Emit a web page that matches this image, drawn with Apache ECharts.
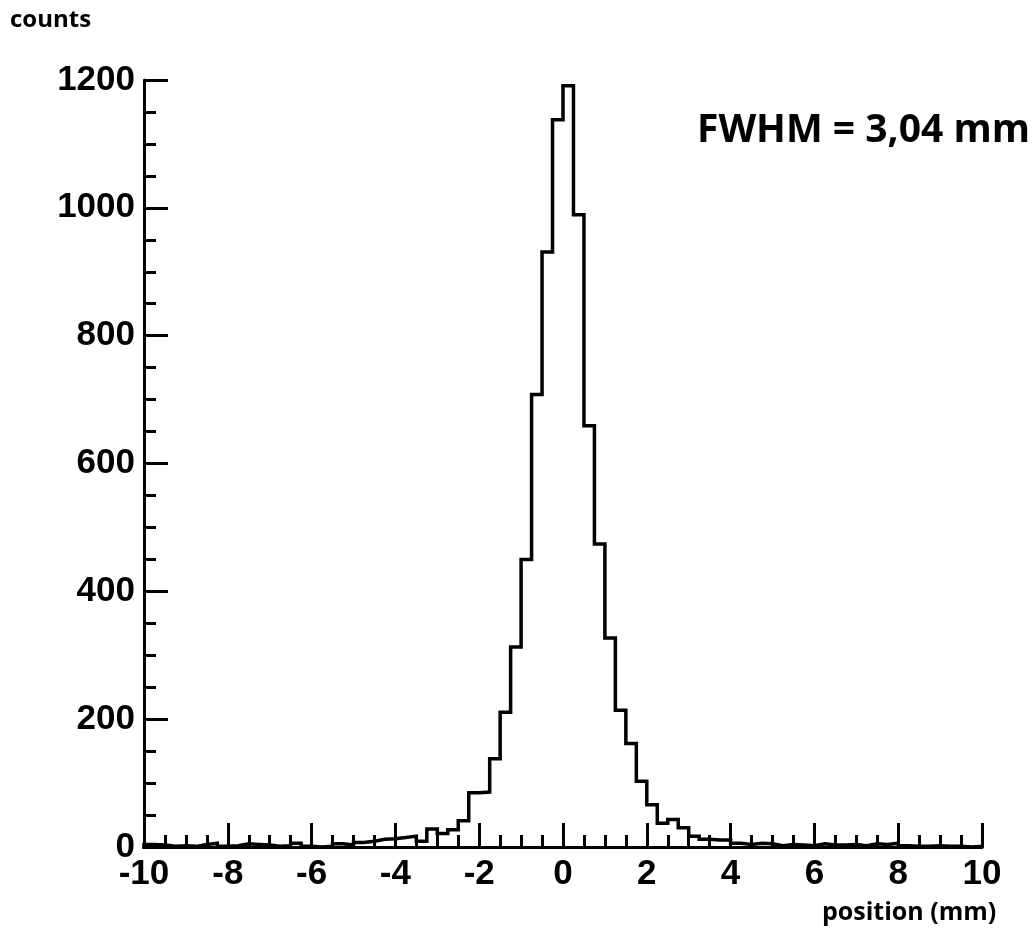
<!DOCTYPE html>
<html>
<head>
<meta charset="utf-8">
<title>Position histogram</title>
<script src="https://cdn.jsdelivr.net/npm/echarts@6/dist/echarts.min.js"></script>
<style>
  html, body { margin: 0; padding: 0; background: #ffffff; }
  #chart { width: 1036px; height: 932px; }
</style>
</head>
<body>
<div id="chart"></div>
<script>
// Histogram range and bin width (mm)
const xMin = -10;
const xMax = 10;
const binWidth = 0.25;

// Counts per bin, left edge from -10 mm up to 9.75 mm
const counts = [
  4, 3, 1, 2, 1, 4, 6, 1, 2, 5,
  4, 3, 1, 2, 6, 1, 0, 1, 5, 3,
  7, 9, 12, 13, 15, 17, 9, 28, 21, 27,
  41, 85, 86, 138, 211, 313, 450, 708, 931, 1138,
  1191, 989, 659, 474, 327, 214, 162, 103, 66, 37,
  43, 30, 17, 12, 11, 11, 6, 4, 6, 5,
  2, 4, 3, 2, 5, 3, 3, 4, 2, 5,
  4, 6, 2, 1, 1, 2, 1, 1, 0, 1
];

// Axis ticks
const xTicks = [-10, -8, -6, -4, -2, 0, 2, 4, 6, 8, 10];
const yTicks = [0, 200, 400, 600, 800, 1000, 1200];

const fwhmText = 'FWHM = 3,04 mm';
const xTitle = 'position (mm)';
const yTitle = 'counts';

// Step outline: start on the baseline, one point per left bin edge, close back down at the right end
const outline = [[xMin, 0]];
counts.forEach(function (c, i) {
  outline.push([xMin + i * binWidth, c]);
});
outline.push([xMax, counts[counts.length - 1]]);
outline.push([xMax, 0]);

const tickFont = {
  color: '#000',
  fontFamily: '"Liberation Sans", Arial, sans-serif',
  fontWeight: 'bold',
  fontSize: 35,
  formatter: function (v) { return String(v); }
};

const chart = echarts.init(document.getElementById('chart'), null, { renderer: 'canvas' });

chart.setOption({
  animation: false,
  backgroundColor: '#ffffff',
  grid: { left: 144, right: 54, top: 80, bottom: 85, containLabel: false },
  xAxis: {
    type: 'value',
    min: xTicks[0],
    max: xTicks[xTicks.length - 1],
    interval: xTicks[1] - xTicks[0],
    axisLine: { show: true, onZero: false, lineStyle: { color: '#000', width: 3 } },
    axisTick: { show: true, inside: true, length: 24, lineStyle: { color: '#000', width: 3 } },
    minorTick: { show: true, splitNumber: 4, length: 12, lineStyle: { color: '#000', width: 3 } },
    splitLine: { show: false },
    axisLabel: Object.assign({ margin: 10 }, tickFont)
  },
  yAxis: {
    type: 'value',
    min: yTicks[0],
    max: yTicks[yTicks.length - 1],
    interval: yTicks[1] - yTicks[0],
    axisLine: { show: true, onZero: false, lineStyle: { color: '#000', width: 3 } },
    axisTick: { show: true, inside: true, length: 24, lineStyle: { color: '#000', width: 3 } },
    minorTick: { show: true, splitNumber: 4, length: 12, lineStyle: { color: '#000', width: 3 } },
    splitLine: { show: false },
    axisLabel: Object.assign({ margin: 9 }, tickFont)
  },
  series: [{
    type: 'line',
    step: 'end',
    data: outline,
    showSymbol: false,
    symbol: 'none',
    clip: false,
    lineStyle: { color: '#000', width: 3.5, join: 'miter', cap: 'square' },
    z: 3
  }],
  graphic: [
    {
      type: 'text',
      left: 10, top: 8,
      style: {
        text: yTitle, fill: '#000',
        font: 'bold 24px "Open Sans", sans-serif'
      }
    },
    {
      type: 'text',
      left: 697, top: 111,
      style: {
        text: fwhmText, fill: '#000',
        font: 'bold 39px "Open Sans", sans-serif'
      }
    },
    {
      type: 'text',
      left: 822, top: 900,
      style: {
        text: xTitle, fill: '#000',
        font: 'bold 25px "Open Sans", sans-serif'
      }
    }
  ]
});
</script>
</body>
</html>
